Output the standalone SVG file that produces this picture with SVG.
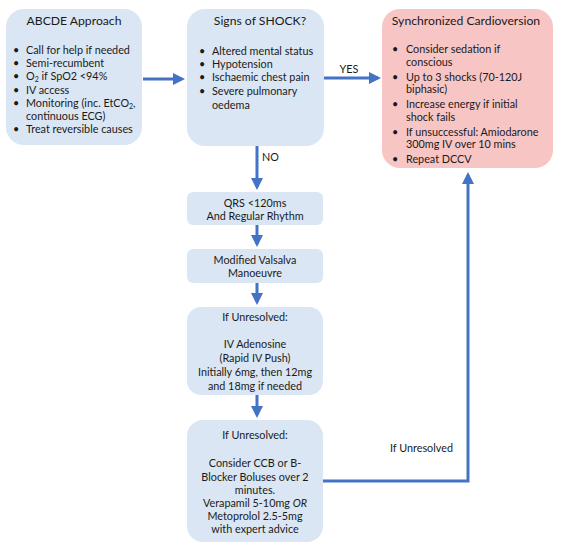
<svg xmlns="http://www.w3.org/2000/svg" width="561" height="548" viewBox="0 0 561 548">
<style>
.blue{fill:#dae6f3;}
.red{fill:#f8c5c5;}
text{font-family:Lato,"Liberation Sans",sans-serif;font-size:10.8px;fill:#1a1a1a;}
.t{font-size:12.2px;}
.c{text-anchor:middle;}
.conn{stroke:#4472c4;stroke-width:3;fill:none;}
.sub{font-size:7px;}
</style>
<defs>
<marker id="ah" markerWidth="4" markerHeight="4" refX="3" refY="2" orient="auto" markerUnits="strokeWidth">
<path d="M0,0 L4,2 L0,4 Z" fill="#4472c4"/>
</marker>
</defs>
<g id="connectors">
<line class="conn" x1="143" y1="79" x2="182" y2="79" marker-end="url(#ah)"/>
<line class="conn" x1="324" y1="78" x2="378" y2="78" marker-end="url(#ah)"/>
<line class="conn" x1="257" y1="146" x2="257" y2="187" marker-end="url(#ah)"/>
<line class="conn" x1="257" y1="225" x2="257" y2="244" marker-end="url(#ah)"/>
<line class="conn" x1="257" y1="283" x2="257" y2="302" marker-end="url(#ah)"/>
<line class="conn" x1="257" y1="395" x2="257" y2="415" marker-end="url(#ah)"/>
<polyline class="conn" points="323,481 468,481 468,175" marker-end="url(#ah)"/>
<text x="349" y="73" class="c">YES</text>
<text x="262" y="161">NO</text>
<text x="390" y="452">If Unresolved</text>
</g>
<g id="abcde">
<rect class="blue" x="6" y="9" width="136" height="136" rx="18"/>
<text x="74" y="25" class="t c">ABCDE Approach</text>
<text x="13" y="54">•</text><text x="26" y="54">Call for help if needed</text>
<text x="13" y="67">•</text><text x="26" y="67">Semi-recumbent</text>
<text x="13" y="80">•</text><text x="26" y="80">O<tspan class="sub" dy="2">2</tspan><tspan dy="-2"> if SpO2 &lt;94%</tspan></text>
<text x="13" y="94">•</text><text x="26" y="94">IV access</text>
<text x="13" y="107">•</text><text x="26" y="107">Monitoring (inc. EtCO<tspan class="sub" dy="2">2</tspan><tspan dy="-2">,</tspan></text>
<text x="26" y="120">continuous ECG)</text>
<text x="13" y="133">•</text><text x="26" y="133">Treat reversible causes</text>
</g>
<g id="shock">
<rect class="blue" x="187" y="9" width="137" height="137" rx="18"/>
<text x="260" y="25" class="t c">Signs of SHOCK?</text>
<text x="199" y="55">•</text><text x="212" y="55">Altered mental status</text>
<text x="199" y="68">•</text><text x="212" y="68">Hypotension</text>
<text x="199" y="81">•</text><text x="212" y="81">Ischaemic chest pain</text>
<text x="199" y="95">•</text><text x="212" y="95">Severe pulmonary</text>
<text x="212" y="109">oedema</text>
</g>
<g id="cardioversion">
<rect class="red" x="382" y="9" width="171" height="159" rx="18"/>
<text x="466" y="25" class="t c">Synchronized Cardioversion</text>
<text x="392" y="53">•</text><text x="406" y="53">Consider sedation if</text>
<text x="406" y="66">conscious</text>
<text x="392" y="81">•</text><text x="406" y="81">Up to 3 shocks (70-120J</text>
<text x="406" y="93">biphasic)</text>
<text x="392" y="108">•</text><text x="406" y="108">Increase energy if initial</text>
<text x="406" y="121">shock fails</text>
<text x="392" y="136">•</text><text x="406" y="136">If unsuccessful: Amiodarone</text>
<text x="406" y="148">300mg IV over 10 mins</text>
<text x="392" y="163">•</text><text x="406" y="163">Repeat DCCV</text>
</g>
<g id="qrs">
<rect class="blue" x="187" y="192" width="136" height="33" rx="6"/>
<text x="255" y="207" class="c">QRS &lt;120ms</text>
<text x="255" y="220" class="c">And Regular Rhythm</text>
</g>
<g id="valsalva">
<rect class="blue" x="187" y="249" width="136" height="34" rx="6"/>
<text x="255" y="264" class="c">Modified Valsalva</text>
<text x="255" y="277" class="c">Manoeuvre</text>
</g>
<g id="adenosine">
<rect class="blue" x="187" y="307" width="136" height="88" rx="14"/>
<text x="255" y="321" class="c">If Unresolved:</text>
<text x="255" y="348" class="c">IV Adenosine</text>
<text x="255" y="362" class="c">(Rapid IV Push)</text>
<text x="255" y="376" class="c">Initially 6mg, then 12mg</text>
<text x="255" y="390" class="c">and 18mg if needed</text>
</g>
<g id="ccb">
<rect class="blue" x="187" y="420" width="136" height="122" rx="16"/>
<text x="255" y="439" class="c">If Unresolved:</text>
<text x="255" y="467" class="c">Consider CCB or B-</text>
<text x="255" y="481" class="c">Blocker Boluses over 2</text>
<text x="255" y="494" class="c">minutes.</text>
<text x="255" y="507" class="c">Verapamil 5-10mg <tspan font-style="italic">OR</tspan></text>
<text x="255" y="520" class="c">Metoprolol 2.5-5mg</text>
<text x="255" y="533" class="c">with expert advice</text>
</g>
</svg>
